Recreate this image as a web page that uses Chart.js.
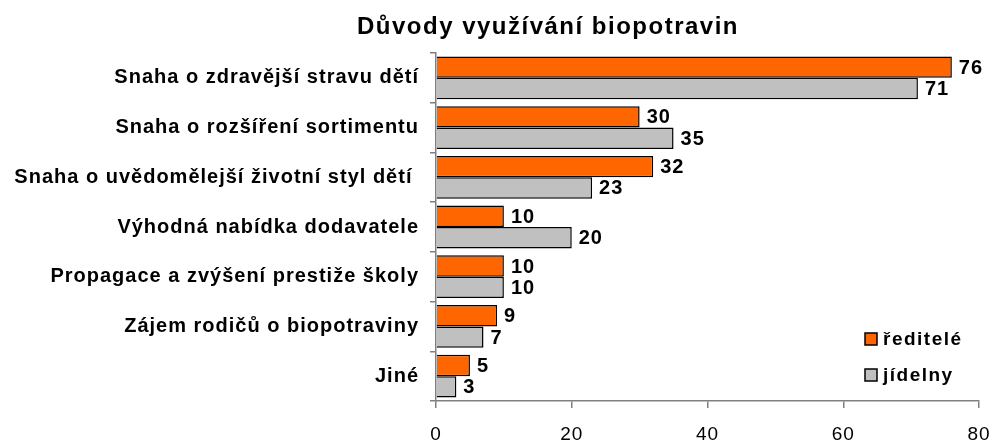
<!DOCTYPE html>
<html>
<head>
<meta charset="utf-8">
<script src="https://cdn.jsdelivr.net/npm/chart.js@4/dist/chart.umd.min.js"></script>
<style>
  html, body { margin: 0; padding: 0; background: #fff; }
  #box { width: 993px; height: 441px; }
</style>
</head>
<body>
<div id="box"><canvas id="graf"></canvas></div>
<script>
// data z grafu
const nadpis = 'Důvody využívání biopotravin';
const kategorie = [
    'Snaha o zdravější stravu dětí',
    'Snaha o rozšíření sortimentu',
    'Snaha o uvědomělejší životní styl dětí ',
    'Výhodná nabídka dodavatele',
    'Propagace a zvýšení prestiže školy',
    'Zájem rodičů o biopotraviny',
    'Jiné'
];
const reditele = [76, 30, 32, 10, 10, 9, 5];
const jidelny = [71, 35, 23, 20, 10, 7, 3];
const osaMin = 0;
const osaMax = 80;
const osaKrok = 20;

const oranzova = '#FF6600';
const seda = '#C0C0C0';
const pismo = '"Liberation Sans", Arial, sans-serif';
const PROKLAD = '1px';

// proklad pismen jako v excelu (canvas se pri resize resetuje, tak pokazde znovu)
const prokladPlugin = {
    id: 'proklad',
    beforeLayout(chart) { chart.ctx.letterSpacing = PROKLAD; },
    beforeDraw(chart) { chart.ctx.letterSpacing = PROKLAD; }
};

// popisky hodnot na koncich sloupcu
const popiskyPlugin = {
    id: 'popisky',
    afterDatasetsDraw(chart) {
        const ctx = chart.ctx;
        ctx.save();
        ctx.font = 'bold 20px ' + pismo;
        ctx.fillStyle = '#000';
        ctx.textBaseline = 'middle';
        ctx.textAlign = 'left';
        chart.data.datasets.forEach((ds, di) => {
            const meta = chart.getDatasetMeta(di);
            meta.data.forEach((el, i) => {
                ctx.fillText(String(ds.data[i]), el.x + 7, el.y + 1);
            });
        });
        ctx.restore();
    }
};

// legenda uvnitr grafu vpravo dole
const legendaPlugin = {
    id: 'legendaVnitr',
    afterDraw(chart) {
        const ctx = chart.ctx;
        const a = chart.chartArea;
        ctx.save();
        ctx.font = 'bold 19px ' + pismo;
        ctx.letterSpacing = '1.5px';
        ctx.textBaseline = 'middle';
        chart.data.datasets.forEach((ds, i) => {
            const x = a.right - 114;
            const y = a.bottom - 62 + i * 36;
            ctx.fillStyle = ds.backgroundColor;
            ctx.fillRect(x, y - 6, 12, 12);
            ctx.strokeStyle = '#000';
            ctx.lineWidth = 1.5;
            ctx.strokeRect(x, y - 6, 12, 12);
            ctx.fillStyle = '#000';
            ctx.fillText(ds.label, x + 18, y + 1);
        });
        ctx.restore();
    }
};

// nadpis
const nadpisPlugin = {
    id: 'nadpis',
    afterDraw(chart) {
        const ctx = chart.ctx;
        ctx.save();
        ctx.font = 'bold 24px ' + pismo;
        ctx.letterSpacing = '1.5px';
        ctx.fillStyle = '#000';
        ctx.textAlign = 'center';
        ctx.textBaseline = 'middle';
        ctx.fillText(nadpis, 548, 27);
        ctx.restore();
    }
};

new Chart(document.getElementById('graf'), {
    type: 'bar',
    data: {
        labels: kategorie,
        datasets: [
            { label: 'ředitelé', data: reditele, backgroundColor: oranzova, borderColor: '#000', borderWidth: 1.5 },
            { label: 'jídelny', data: jidelny, backgroundColor: seda, borderColor: '#000', borderWidth: 1.5 }
        ]
    },
    options: {
        indexAxis: 'y',
        responsive: true,
        maintainAspectRatio: false,
        animation: false,
        datasets: { bar: { categoryPercentage: 0.86, barPercentage: 1.0 } },
        layout: { padding: { top: 53, right: 14, bottom: 0, left: 0 } },
        plugins: {
            legend: { display: false },
            title: { display: false },
            tooltip: { enabled: false }
        },
        scales: {
            x: {
                min: osaMin,
                max: osaMax,
                ticks: { stepSize: osaKrok, color: '#000', font: { family: pismo, size: 19 }, padding: 15 },
                grid: { drawOnChartArea: false, tickLength: 7, color: '#808080', lineWidth: 1.5 },
                border: { color: '#808080', width: 1.5 },
                afterFit(scale) {
                    scale.height = 40;
                    scale.paddingLeft = 0;
                    scale.paddingRight = 0;
                }
            },
            y: {
                ticks: { color: '#000', font: { family: pismo, size: 20, weight: 'bold' }, padding: 11 },
                grid: { drawOnChartArea: false, tickLength: 6, color: '#808080', offset: true, lineWidth: 1.5 },
                border: { color: '#808080', width: 1.5 },
                afterFit(scale) { scale.width = 436; }
            }
        }
    },
    plugins: [prokladPlugin, popiskyPlugin, legendaPlugin, nadpisPlugin]
});
</script>
</body>
</html>
